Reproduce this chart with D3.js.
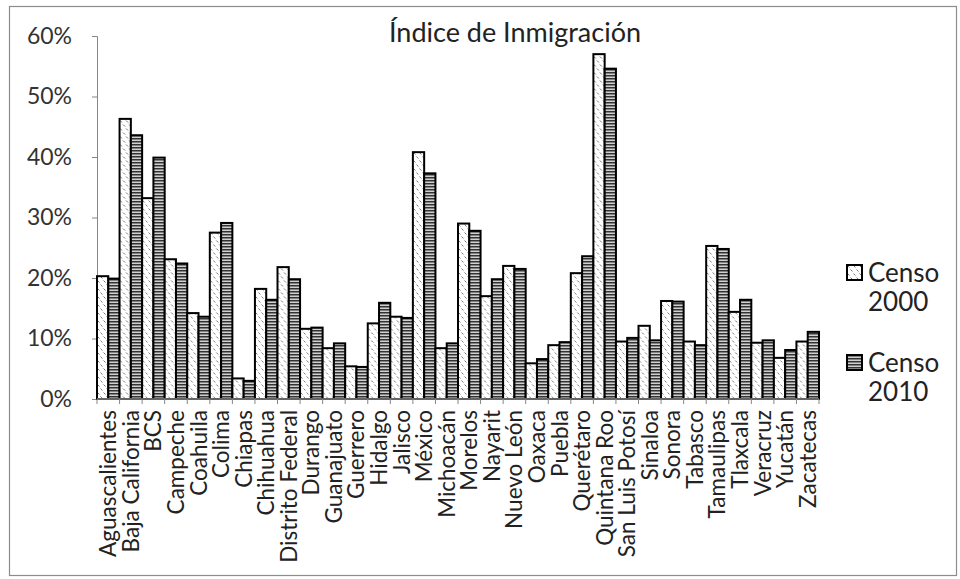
<!DOCTYPE html>
<html>
<head>
<meta charset="utf-8">
<script src="https://cdnjs.cloudflare.com/ajax/libs/d3/7.8.5/d3.min.js"></script>
<style>
  body { margin: 0; background: #fff; }
  text { font-family: Lato, "Open Sans", sans-serif; fill: #222; }
</style>
</head>
<body>
<svg width="960" height="579"></svg>
<script>
// data
var estados = ['Aguascalientes', 'Baja California', 'BCS', 'Campeche', 'Coahuila', 'Colima',
  'Chiapas', 'Chihuahua', 'Distrito Federal', 'Durango', 'Guanajuato', 'Guerrero', 'Hidalgo',
  'Jalisco', 'México', 'Michoacán', 'Morelos', 'Nayarit', 'Nuevo León', 'Oaxaca', 'Puebla',
  'Querétaro', 'Quintana Roo', 'San Luis Potosí', 'Sinaloa', 'Sonora', 'Tabasco', 'Tamaulipas',
  'Tlaxcala', 'Veracruz', 'Yucatán', 'Zacatecas'];
var censo2000 = [0.203, 0.463, 0.332, 0.231, 0.142, 0.275, 0.034, 0.182, 0.218, 0.116, 0.084,
  0.054, 0.125, 0.136, 0.408, 0.084, 0.290, 0.170, 0.220, 0.059, 0.089, 0.208, 0.570, 0.095,
  0.121, 0.162, 0.095, 0.253, 0.144, 0.093, 0.068, 0.095];
var censo2010 = [0.199, 0.436, 0.399, 0.224, 0.136, 0.291, 0.030, 0.164, 0.198, 0.118, 0.092,
  0.053, 0.159, 0.134, 0.373, 0.092, 0.278, 0.198, 0.215, 0.066, 0.094, 0.236, 0.546, 0.101,
  0.097, 0.161, 0.089, 0.248, 0.164, 0.097, 0.081, 0.111];
var series = ['Censo 2000', 'Censo 2010'];
var yTicks = [0, 0.1, 0.2, 0.3, 0.4, 0.5, 0.6];

var svg = d3.select('svg');
var plotLeft = 97, plotRight = 819, plotTop = 36, plotBottom = 399;

// patterns
var defs = svg.append('defs');
var p1 = defs.append('pattern')
  .attr('id', 'p2000').attr('patternUnits', 'userSpaceOnUse')
  .attr('width', 6).attr('height', 8);
p1.append('rect').attr('width', 6).attr('height', 8).style('fill', '#fff');
p1.append('path').attr('d', 'M0.5,0.5 L2.5,2.5 M3.5,4.5 L5.5,6.5')
  .style('stroke', '#555').style('stroke-width', 0.8);

var p2 = defs.append('pattern')
  .attr('id', 'p2010').attr('patternUnits', 'userSpaceOnUse')
  .attr('width', 4).attr('height', 3);
p2.append('rect').attr('width', 4).attr('height', 3).style('fill', '#d0d0d0');
p2.append('rect').attr('y', 0).attr('width', 4).attr('height', 1.5).style('fill', '#333');

var fills = ['url(#p2000)', 'url(#p2010)'];

// outer frame
svg.append('rect')
  .attr('x', 9.5).attr('y', 6.5).attr('width', 947).attr('height', 569)
  .style('fill', 'none').style('stroke', '#8c8c8c').style('stroke-width', 1.2);

// scales
var x = d3.scaleBand().domain(estados).range([plotLeft, plotRight]).padding(0);
var xs = d3.scaleBand().domain([0, 1]).range([0, x.bandwidth()]).padding(0);
var y = d3.scaleLinear().domain([0, 0.6]).range([plotBottom, plotTop]);

// y axis
var yAxis = svg.append('g')
  .attr('transform', 'translate(' + plotLeft + ',0)')
  .call(d3.axisLeft(y).tickValues(yTicks).tickFormat(d3.format('.0%')).tickSize(5).tickPadding(20));
yAxis.selectAll('text').style('font-size', '23px').style('fill', '#333')
  .style('font-family', 'Lato, sans-serif');
yAxis.selectAll('line, path').style('stroke', '#868686');

// bars
var groups = svg.selectAll('.estado')
  .data(estados)
  .enter()
  .append('g')
  .attr('class', 'estado')
  .attr('transform', function(d) { return 'translate(' + x(d) + ',0)'; });

groups.selectAll('rect')
  .data(function(d, i) { return [censo2000[i], censo2010[i]]; })
  .enter()
  .append('rect')
  .attr('x', function(d, j) { return xs(j); })
  .attr('y', function(d) { return y(d); })
  .attr('width', xs.bandwidth())
  .attr('height', function(d) { return plotBottom - y(d); })
  .style('fill', function(d, j) { return fills[j]; })
  .style('stroke', '#000')
  .style('stroke-width', 2);

// x axis with ticks at category boundaries
svg.append('line')
  .attr('x1', plotLeft).attr('x2', plotRight).attr('y1', plotBottom).attr('y2', plotBottom)
  .style('stroke', '#868686').style('stroke-width', 1.5);
var bounds = estados.map(function(d) { return x(d); }).concat([plotRight]);
svg.selectAll('.xtick')
  .data(bounds)
  .enter()
  .append('line')
  .attr('x1', function(d) { return d; }).attr('x2', function(d) { return d; })
  .attr('y1', plotBottom).attr('y2', plotBottom + 5)
  .style('stroke', '#868686');

svg.selectAll('.xlabel')
  .data(estados)
  .enter()
  .append('text')
  .attr('transform', function(d) {
    return 'translate(' + (x(d) + x.bandwidth() / 2 + 8) + ',' + (plotBottom + 11) + ') rotate(-90)';
  })
  .attr('text-anchor', 'end')
  .style('font-size', '22.5px')
  .text(function(d) { return d; });

// title
svg.append('text')
  .attr('x', 515).attr('y', 42)
  .attr('text-anchor', 'middle')
  .style('font-size', '27px')
  .text('Índice de Inmigración');

// legend
var legend = svg.selectAll('.legend')
  .data(series)
  .enter()
  .append('g')
  .attr('transform', function(d, i) { return 'translate(847,' + (265 + i * 90) + ')'; });
legend.append('rect')
  .attr('width', 15).attr('height', 15)
  .style('fill', function(d, i) { return fills[i]; })
  .style('stroke', '#000').style('stroke-width', 2);
legend.append('text')
  .attr('x', 21).attr('y', 17)
  .style('font-size', '26px')
  .text(function(d) { return d.split(' ')[0]; });
legend.append('text')
  .attr('x', 21).attr('y', 46)
  .style('font-size', '26px')
  .text(function(d) { return d.split(' ')[1]; });
</script>
</body>
</html>
